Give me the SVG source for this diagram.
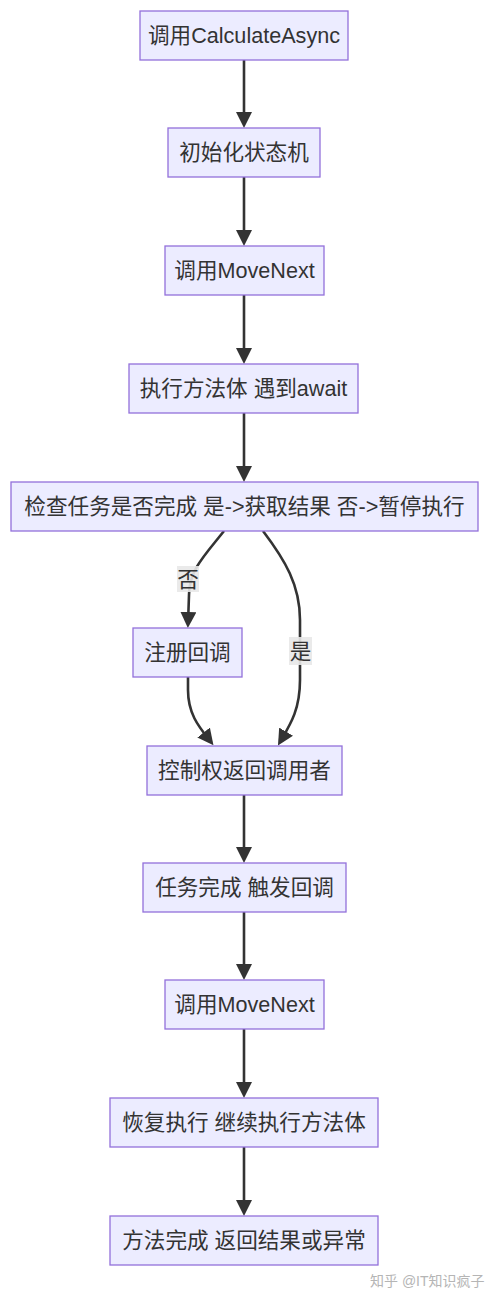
<svg xmlns="http://www.w3.org/2000/svg" width="500" height="1303" viewBox="0 0 500 1303">
<style>
.node rect{fill:#ECECFF;stroke:#9370DB;stroke-width:1.3}
.node text,.elabel text{font-family:"Liberation Sans","Noto Sans CJK SC",sans-serif;font-size:21.6px;fill:#333;text-anchor:middle}
.edge{fill:none;stroke:#333;stroke-width:2.6;marker-end:url(#arrow)}
.elabel rect{fill:#e8e8e8;opacity:0.9}
.wm{font-family:"Liberation Sans","Noto Sans CJK SC",sans-serif;font-size:14px;fill:#b5b5b5}
</style>
<defs>
<marker id="arrow" viewBox="0 0 10 10" refX="7.5" refY="5" markerUnits="userSpaceOnUse" markerWidth="16" markerHeight="16" orient="auto">
<path d="M0,0 L10,5 L0,10 z" fill="#333"/>
</marker>
</defs>
<rect width="500" height="1303" fill="#fff"/>
<g id="edges">
<path class="edge" d="M244,60 L244,124"/>
<path class="edge" d="M244,177 L244,242"/>
<path class="edge" d="M244,295 L244,360"/>
<path class="edge" d="M244,413 L244,478"/>
<path class="edge" d="M224,531 C205,555 189,570 189,595 L188,624"/>
<path class="edge" d="M263,531 C285,560 300,585 300,620 L300,680 C300,710 290,725 280,742"/>
<path class="edge" d="M188,677 L188,690 C188,715 200,728 211,742"/>
<path class="edge" d="M244,795 L244,859"/>
<path class="edge" d="M244,912 L244,976"/>
<path class="edge" d="M244,1029 L244,1094"/>
<path class="edge" d="M244,1147 L244,1212"/>
</g>
<g id="label-no" class="elabel"><rect x="177" y="566" width="22" height="26"/><text x="188" y="586.5">否</text></g>
<g id="label-yes" class="elabel"><rect x="289" y="637" width="23" height="28"/><text x="300.5" y="658.5">是</text></g>
<g id="n1" class="node"><rect x="140" y="11" width="208" height="49"/><text x="244" y="43">调用CalculateAsync</text></g>
<g id="n2" class="node"><rect x="168" y="128" width="152" height="49"/><text x="244" y="160">初始化状态机</text></g>
<g id="n3" class="node"><rect x="165" y="246" width="159" height="49"/><text x="244.5" y="278">调用MoveNext</text></g>
<g id="n4" class="node"><rect x="129" y="364" width="229" height="49"/><text x="243.5" y="396">执行方法体 遇到await</text></g>
<g id="n5" class="node"><rect x="11" y="482" width="467" height="49"/><text x="244.5" y="514">检查任务是否完成 是-&gt;获取结果 否-&gt;暂停执行</text></g>
<g id="n6" class="node"><rect x="133" y="628" width="109" height="49"/><text x="187.5" y="660">注册回调</text></g>
<g id="n7" class="node"><rect x="147" y="746" width="195" height="49"/><text x="244.5" y="778">控制权返回调用者</text></g>
<g id="n8" class="node"><rect x="143" y="863" width="203" height="49"/><text x="244.5" y="895">任务完成 触发回调</text></g>
<g id="n9" class="node"><rect x="165" y="980" width="159" height="49"/><text x="244.5" y="1012">调用MoveNext</text></g>
<g id="n10" class="node"><rect x="110" y="1098" width="268" height="49"/><text x="244" y="1130">恢复执行 继续执行方法体</text></g>
<g id="n11" class="node"><rect x="110" y="1216" width="268" height="49"/><text x="244" y="1248">方法完成 返回结果或异常</text></g>
<text class="wm" x="370" y="1286">知乎 @IT知识疯子</text>
</svg>
